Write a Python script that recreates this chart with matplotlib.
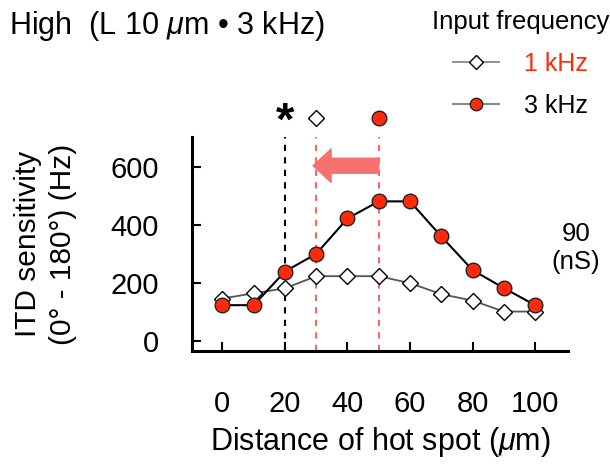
import matplotlib
matplotlib.use('Agg')
import matplotlib.pyplot as plt
import matplotlib.transforms as mtransforms
import numpy as np

plt.rcParams['font.family'] = ['Liberation Sans', 'DejaVu Sans']
plt.rcParams['mathtext.fontset'] = 'custom'
plt.rcParams['mathtext.rm'] = 'Liberation Sans'
plt.rcParams['mathtext.it'] = 'Liberation Sans:italic'

distance = [0, 10, 20, 30, 40, 50, 60, 70, 80, 90, 100]
itd_1khz = [145, 163, 180, 222, 222, 222, 198, 160, 138, 100, 100]
itd_3khz = [122, 122, 238, 299, 421, 480, 480, 359, 243, 181, 122]
peak_1khz = 30
peak_3khz = 50
star_x = 20
arrow_y = 603

red = '#ff2a0a'
dash_red = '#ff6464'

fig = plt.figure(figsize=(6.1, 4.66), dpi=100)
ax = fig.add_axes([0.3148, 0.2468, 0.9311 - 0.3148, 0.706 - 0.2468])

ax.plot(distance, itd_1khz, color='#555555', lw=1.3, marker='D', ms=8,
        mfc='white', mec='black', mew=1.0, zorder=3, label='1 kHz')
ax.plot(distance, itd_3khz, color='black', lw=1.5, marker='o', ms=10.5,
        mfc=red, mec='#222222', mew=1.0, zorder=4, label='3 kHz')

ax.set_xlim(-9.7, 110.5)
ax.set_ylim(-36, 702)

# dashed guide lines
ax.axvline(star_x, color='black', ls=(0, (3, 3)), lw=1.5, zorder=1)
ax.axvline(peak_1khz, color=dash_red, ls=(0, (3, 3)), lw=1.5, zorder=1)
ax.axvline(peak_3khz, color=dash_red, ls=(0, (3, 3)), lw=1.5, zorder=1)

# peak markers above the plot
trans = mtransforms.blended_transform_factory(ax.transData, ax.transAxes)
ax.plot([peak_1khz], [1.089], transform=trans, marker='D', ms=8, mfc='white',
        mec='black', mew=1.0, clip_on=False, ls='none')
ax.plot([peak_3khz], [1.089], transform=trans, marker='o', ms=10.5, mfc=red,
        mec='#222222', mew=1.0, clip_on=False, ls='none')
ax.text(star_x, 1.065, '*', transform=trans, ha='center', va='center',
        fontsize=34, fontweight='bold', clip_on=False)

# shift arrow
ax.annotate('', xy=(peak_1khz - 1, arrow_y), xytext=(peak_3khz, arrow_y),
            arrowprops=dict(arrowstyle='simple,head_length=1.3,head_width=2.4,tail_width=1.08',
                            color='#f77070', shrinkA=0, shrinkB=0, mutation_scale=10))

ax.set_xticks([0, 20, 40, 60, 80, 100])
ax.set_yticks([0, 200, 400, 600])
ax.tick_params(direction='in', length=6.5, width=1.5, labelsize=21)
ax.tick_params(axis='x', pad=28)
ax.tick_params(axis='y', pad=24)
for side in ['top', 'right']:
    ax.spines[side].set_visible(False)
for side in ['left', 'bottom']:
    ax.spines[side].set_linewidth(2.2)

ax.set_xlabel('Distance of hot spot ($\\mu$m)', fontsize=22, labelpad=5)
ax.set_ylabel('ITD sensitivity\n(0° - 180°) (Hz)', fontsize=21.5,
              labelpad=24, linespacing=1.3)

fig.text(9 / 610, 1 - 34 / 466, 'High  (L 10 $\\mu$m • 3 kHz)', fontsize=22,
         va='baseline', ha='left')
fig.text(576 / 610, 1 - 248 / 466, '90\n(nS)', fontsize=18.5, ha='center',
         va='center', linespacing=1.2)

leg = ax.legend(title='Input frequency', frameon=False, fontsize=18,
                title_fontsize=18.5, loc='upper right',
                bbox_to_anchor=(609 / 610, 1 - 10 / 466), bbox_transform=fig.transFigure,
                handlelength=1.84, handletextpad=1.0, labelspacing=0.72,
                borderpad=0.0, borderaxespad=0.0, markerscale=0.85)
for h in leg.legend_handles:
    h.set_color('#888888')
leg.legend_handles[0].set_markerfacecolor('white')
leg.legend_handles[0].set_markeredgecolor('black')
leg.legend_handles[1].set_markerfacecolor(red)
leg.legend_handles[1].set_markeredgecolor('#222222')
leg.get_texts()[0].set_color(red)

fig.savefig('out.png', dpi=100)
